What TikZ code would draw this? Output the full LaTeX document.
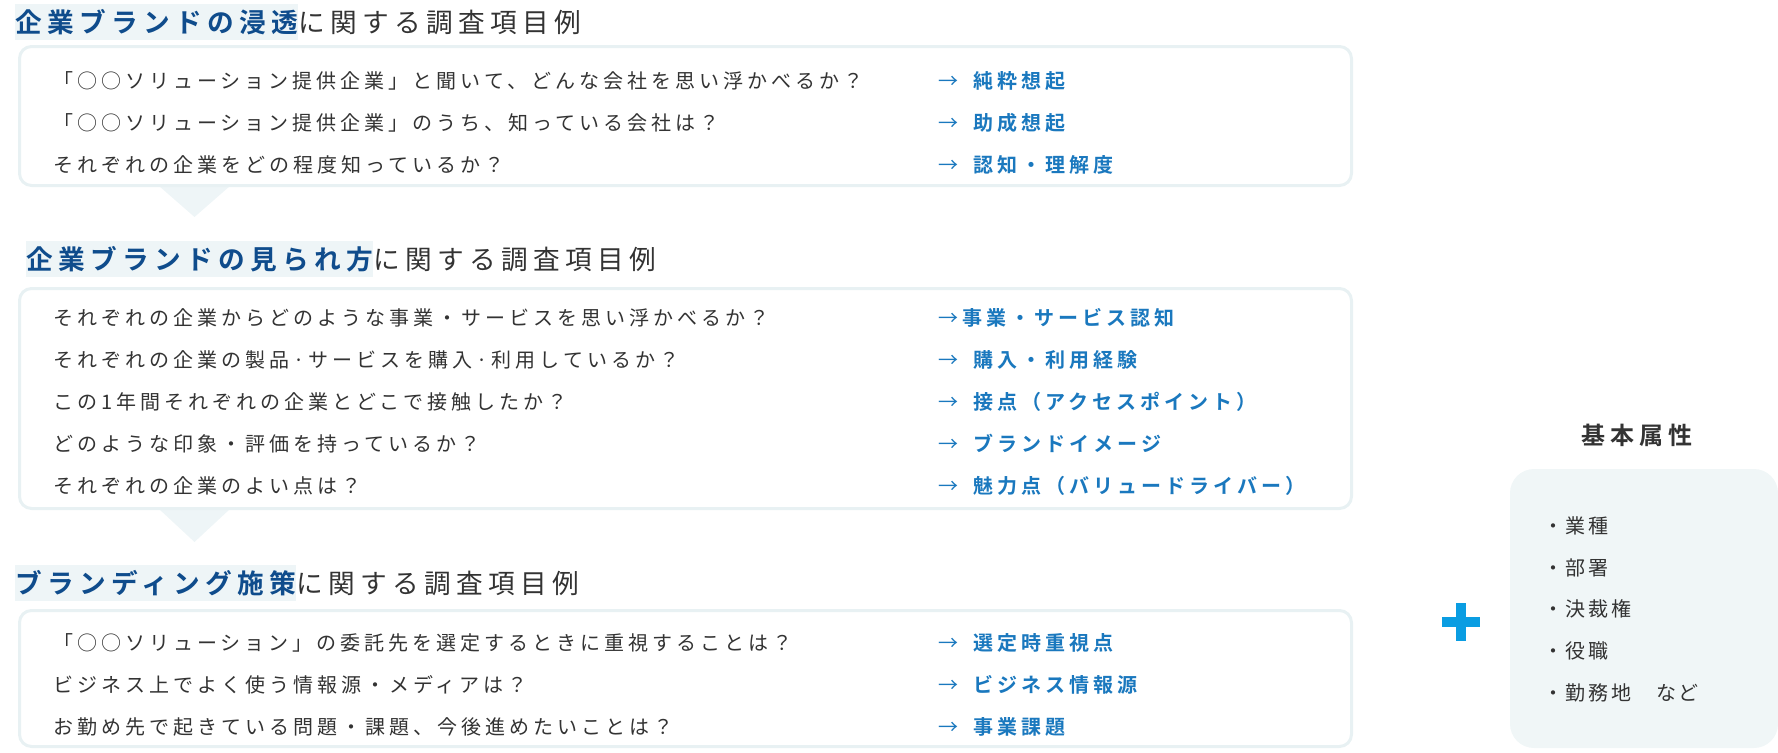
\documentclass[tikz,border=0pt]{standalone}
\usepackage{fontspec}
\setmainfont{Noto Sans CJK JP}[BoldFont={Noto Sans CJK JP Bold},LetterSpace=20]
\newfontfamily\attrfont{Noto Sans CJK JP}[BoldFont={Noto Sans CJK JP Bold},LetterSpace=13]
\usetikzlibrary{positioning}

\definecolor{headblue}{HTML}{0F4C8C}
\definecolor{ansblue}{HTML}{1A78BE}
\definecolor{hlbg}{HTML}{EEF5F7}
\definecolor{boxline}{HTML}{E8F1F3}
\definecolor{attrbg}{HTML}{F0F6F7}
\definecolor{plusblue}{HTML}{0A9DE2}
\definecolor{txtgray}{HTML}{333333}

\newcommand{\ansarrow}{{\mdseries →}}

\tikzset{
  qtext/.style={anchor=west,inner sep=0pt,text=txtgray,font=\fontsize{15pt}{18pt}\selectfont,text height=13.2pt,text depth=1.8pt},
  atext/.style={qtext,text=ansblue,font=\fontsize{15pt}{18pt}\selectfont\bfseries},
  headhl/.style={anchor=west,inner xsep=0pt,inner ysep=3.4pt,fill=hlbg,text=headblue,font=\fontsize{20pt}{22pt}\selectfont\bfseries,text height=17.6pt,text depth=2.4pt},
  headrest/.style={inner xsep=0pt,inner ysep=3.4pt,text=txtgray,font=\fontsize{20pt}{22pt}\selectfont,text height=17.6pt,text depth=2.4pt},
  qbox/.style={draw=boxline,line width=2.25pt,rounded corners=9pt,fill=white},
  attritem/.style={anchor=west,inner sep=0pt,text=txtgray,font=\attrfont\fontsize{15pt}{18pt}\selectfont,text height=13.2pt,text depth=1.8pt},
}

\begin{document}
\begin{tikzpicture}[x=0.75pt,y=-0.75pt]
\useasboundingbox (0,0) rectangle (1778,753);
%\draw[step=20,gray,very thin] (0,0) grid (1778,753); %background grid

% pointers between the blocks
\fill[hlbg] (159,186) -- (230,186) -- (194.5,217) -- cycle;
\fill[hlbg] (159,509) -- (230,509) -- (194.5,542) -- cycle;

% block 1
\node[headhl] (h1hl) at (15,22) {企業ブランドの浸透};
\node[headrest, right=0pt of h1hl] (h1rest) {に関する調査項目例};
\draw[qbox] (19.5,46.5) rectangle (1351.5,185.5);
\node[qtext] (q11) at (53,81) {「○○ソリューション提供企業」と聞いて、どんな会社を思い浮かべるか？};
\node[qtext] (q12) at (53,123) {「○○ソリューション提供企業」のうち、知っている会社は？};
\node[qtext] (q13) at (53,165) {それぞれの企業をどの程度知っているか？};
\node[atext] (a11) at (938,81) {\ansarrow\kern5pt{} 純粋想起};
\node[atext] (a12) at (938,123) {\ansarrow\kern5pt{} 助成想起};
\node[atext] (a13) at (938,165) {\ansarrow\kern5pt{} 認知・理解度};

% block 2
\node[headhl] (h2hl) at (26,259) {企業ブランドの見られ方};
\node[headrest, right=0pt of h2hl] (h2rest) {に関する調査項目例};
\draw[qbox] (19.5,288.5) rectangle (1351.5,508.5);
\node[qtext] (q21) at (53,318) {それぞれの企業からどのような事業・サービスを思い浮かべるか？};
\node[qtext] (q22) at (53,360) {それぞれの企業の製品·サービスを購入·利用しているか？};
\node[qtext] (q23) at (53,402) {この1年間それぞれの企業とどこで接触したか？};
\node[qtext] (q24) at (53,444) {どのような印象・評価を持っているか？};
\node[qtext] (q25) at (53,486) {それぞれの企業のよい点は？};
\node[atext] (a21) at (938,318) {\ansarrow\kern3pt 事業・サービス認知};
\node[atext] (a22) at (938,360) {\ansarrow\kern5pt{} 購入・利用経験};
\node[atext] (a23) at (938,402) {\ansarrow\kern5pt{} 接点（アクセスポイント）};
\node[atext] (a24) at (938,444) {\ansarrow\kern5pt{} ブランドイメージ};
\node[atext] (a25) at (938,486) {\ansarrow\kern5pt{} 魅力点（バリュードライバー）};

% block 3
\node[headhl] (h3hl) at (15,583) {ブランディング施策};
\node[headrest, right=0pt of h3hl] (h3rest) {に関する調査項目例};
\draw[qbox] (19.5,610.5) rectangle (1351.5,746.5);
\node[qtext] (q31) at (53,643) {「○○ソリューション」の委託先を選定するときに重視することは？};
\node[qtext] (q32) at (53,685) {ビジネス上でよく使う情報源・メディアは？};
\node[qtext] (q33) at (53,727) {お勤め先で起きている問題・課題、今後進めたいことは？};
\node[atext] (a31) at (938,643) {\ansarrow\kern5pt{} 選定時重視点};
\node[atext] (a32) at (938,685) {\ansarrow\kern5pt{} ビジネス情報源};
\node[atext] (a33) at (938,727) {\ansarrow\kern5pt{} 事業課題};

% plus and attributes
\draw[plusblue,line width=7.1pt] (1442,622) -- (1480,622);
\draw[plusblue,line width=7.1pt] (1461,603) -- (1461,641);
\fill[attrbg,rounded corners=18pt] (1510,469) rectangle (1778,748);
\node[text=txtgray,font=\fontsize{18pt}{20pt}\selectfont\bfseries,inner sep=0pt] (attrhead) at (1637,435) {基本属性};
\node[attritem] (t1) at (1543,526) {・業種};
\node[attritem] (t2) at (1543,568) {・部署};
\node[attritem] (t3) at (1543,609) {・決裁権};
\node[attritem] (t4) at (1543,651) {・役職};
\node[attritem] (t5) at (1543,693) {・勤務地　など};
\end{tikzpicture}
\end{document}
